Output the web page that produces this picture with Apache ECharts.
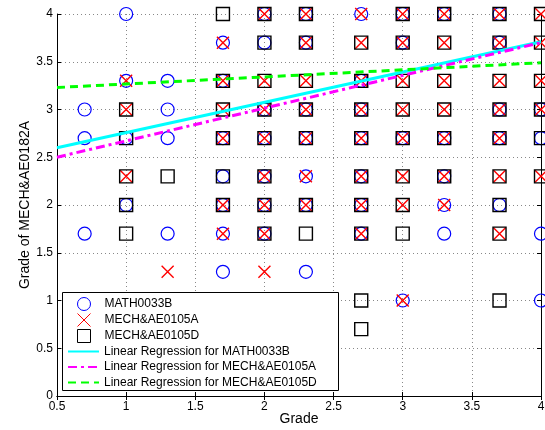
<!DOCTYPE html>
<html>
<head>
<meta charset="utf-8">
<script src="https://cdn.jsdelivr.net/npm/echarts@6/dist/echarts.min.js"></script>
<style>html,body{margin:0;padding:0;background:#fff}#c{width:545px;height:430px}</style>
</head>
<body>
<div id="c"></div>
<script>
// ---- data ----
const seriesNames = ['MATH0033B', 'MECH&AE0105A', 'MECH&AE0105D'];
const regNames = ['Linear Regression for MATH0033B', 'Linear Regression for MECH&AE0105A', 'Linear Regression for MECH&AE0105D'];
const math0033B = [
  [1,4],[2,4],[2.3,4],[2.7,4],[3,4],[3.3,4],[3.7,4],
  [1.7,3.7],[2,3.7],[2.3,3.7],[3,3.7],[3.7,3.7],
  [1,3.3],[1.3,3.3],[1.7,3.3],[2.7,3.3],
  [0.7,3],[1.3,3],[2,3],[2.3,3],[2.7,3],[3.7,3],[4,3],
  [0.7,2.7],[1,2.7],[1.3,2.7],[1.7,2.7],[2,2.7],[2.3,2.7],[2.7,2.7],[3,2.7],[3.3,2.7],[3.7,2.7],[4,2.7],
  [1.7,2.3],[2,2.3],[2.3,2.3],[2.7,2.3],[3.3,2.3],
  [1,2],[1.7,2],[2,2],[2.3,2],[2.7,2],[3.3,2],[3.7,2],
  [0.7,1.7],[1.3,1.7],[1.7,1.7],[2,1.7],[2.7,1.7],[3.3,1.7],[4,1.7],
  [1.7,1.3],[2.3,1.3],
  [3,1],[4,1]
];
const mech0105A = [
  [2,4],[2.3,4],[2.7,4],[3,4],[3.3,4],[3.7,4],[4,4],
  [1.7,3.7],[2.3,3.7],[2.7,3.7],[3,3.7],[3.3,3.7],[3.7,3.7],[4,3.7],
  [1,3.3],[1.7,3.3],[2,3.3],[2.3,3.3],[2.7,3.3],[3,3.3],[3.3,3.3],[3.7,3.3],[4,3.3],
  [1,3],[1.7,3],[2,3],[2.3,3],[2.7,3],[3,3],[3.3,3],[3.7,3],[4,3],
  [1.7,2.7],[2,2.7],[2.3,2.7],[2.7,2.7],[3,2.7],[3.3,2.7],[3.7,2.7],
  [1,2.3],[2,2.3],[2.3,2.3],[2.7,2.3],[3,2.3],[3.3,2.3],[3.7,2.3],[4,2.3],
  [1.7,2],[2,2],[2.3,2],[2.7,2],[3,2],[3.3,2],
  [1.7,1.7],[2,1.7],[2.7,1.7],[3.7,1.7],
  [1.3,1.3],[2,1.3],
  [3,1]
];
const mech0105D = [
  [1.7,4],[2,4],[2.3,4],[3,4],[3.3,4],[3.7,4],[4,4],
  [2,3.7],[2.3,3.7],[2.7,3.7],[3,3.7],[3.3,3.7],[3.7,3.7],[4,3.7],
  [1.7,3.3],[2,3.3],[2.3,3.3],[2.7,3.3],[3,3.3],[3.3,3.3],[3.7,3.3],[4,3.3],
  [1,3],[1.7,3],[2,3],[2.3,3],[2.7,3],[3,3],[3.3,3],[3.7,3],[4,3],
  [1,2.7],[1.7,2.7],[2,2.7],[2.3,2.7],[2.7,2.7],[3,2.7],[3.3,2.7],[3.7,2.7],[4,2.7],
  [1,2.3],[1.3,2.3],[1.7,2.3],[2,2.3],[2.7,2.3],[3,2.3],[3.3,2.3],[3.7,2.3],[4,2.3],
  [1,2],[1.7,2],[2,2],[2.3,2],[2.7,2],[3,2],[3.7,2],
  [1,1.7],[2,1.7],[2.3,1.7],[2.7,1.7],[3,1.7],[3.7,1.7],
  [2.7,1],[3.7,1],
  [2.7,0.7]
];
const regX = [0.5, 4];
const regMath = [2.6, 3.71];
const regA = [2.5, 3.7];
const regD = [3.23, 3.49];

// ---- chart ----
const font = 'Liberation Sans, Arial, sans-serif';
const pair = (xs, ys) => xs.map((x, i) => [x, ys[i]]);
const xPath = 'path://M0,0L10,10M10,0L0,10';
const sqPath = 'path://M0,0L10,0L10,10L0,10Z';
const cPath = 'path://M5,0A5,5,0,1,1,5,10A5,5,0,1,1,5,0Z';
const hidden = { color: 'none', borderColor: 'none', borderWidth: 0, opacity: 0 };
const chart = echarts.init(document.getElementById('c'));
const baseAxis = {
  min: 0, max: 4, interval: 0.5,
  axisLine: { show: true, lineStyle: { color: '#000', width: 1 } },
  axisTick: { show: true, inside: true, length: 4, lineStyle: { color: '#000' } },
  axisLabel: { color: '#000', fontFamily: font, fontSize: 12 },
  splitLine: { show: true, lineStyle: { color: '#888', type: [1, 3], width: 1 } }
};
const legendCommon = {
  orient: 'vertical', padding: 0, itemWidth: 31, itemHeight: 13,
  symbolKeepAspect: true, z: 5,
  textStyle: { color: '#000', fontFamily: font, fontSize: 12, lineHeight: 13 }
};
chart.setOption({
  animation: false,
  backgroundColor: '#fff',
  grid: { left: 57, right: 4, top: 14, bottom: 34, containLabel: false, outerBoundsMode: 'none' },
  xAxis: [
    Object.assign({}, baseAxis, { type: 'value', min: 0.5, max: 4, name: 'Grade', nameLocation: 'middle', nameGap: 16,
      nameMoveOverlap: false,
      nameTextStyle: { color: '#000', fontFamily: font, fontSize: 14 },
      axisLabel: { color: '#000', fontFamily: font, fontSize: 12, margin: 5, formatter: v => String(v) } }),
    Object.assign({}, baseAxis, { type: 'value', min: 0.5, max: 4, position: 'top', axisLabel: { show: false }, splitLine: { show: false } })
  ],
  yAxis: [
    Object.assign({}, baseAxis, { type: 'value', name: 'Grade of MECH&AE0182A', nameLocation: 'middle', nameGap: 25,
      nameMoveOverlap: false,
      nameTextStyle: { color: '#000', fontFamily: font, fontSize: 14 },
      axisLabel: { color: '#000', fontFamily: font, fontSize: 12, margin: 4, formatter: v => String(v) } }),
    Object.assign({}, baseAxis, { type: 'value', position: 'right', axisLabel: { show: false }, splitLine: { show: false } })
  ],
  graphic: [{
    type: 'rect', left: 62, top: 292, z: 4,
    shape: { width: 276, height: 98 },
    style: { fill: '#fff', stroke: '#000', lineWidth: 1 }
  }],
  legend: [
    Object.assign({}, legendCommon, {
      left: 75, top: 295, itemGap: -2,
      data: [
        { name: seriesNames[0], icon: cPath, itemStyle: { color: 'none', borderColor: '#0000ff', borderWidth: 1 } },
        { name: seriesNames[1], icon: xPath, itemStyle: { color: 'none', borderColor: '#ff0000', borderWidth: 1 } },
        { name: seriesNames[2], icon: sqPath, itemStyle: { color: 'none', borderColor: '#000', borderWidth: 1 } }
      ]
    }),
    Object.assign({}, legendCommon, {
      left: 67, top: 345, itemGap: 2.5,
      data: [
        { name: regNames[0], itemStyle: hidden },
        { name: regNames[1], itemStyle: hidden },
        { name: regNames[2], itemStyle: hidden }
      ]
    })
  ],
  series: [
    { name: seriesNames[0], type: 'scatter', data: math0033B, symbol: 'circle', symbolSize: 13,
      itemStyle: { color: 'none', borderColor: '#0000ff', borderWidth: 1.2, opacity: 1 }, z: 2 },
    { name: seriesNames[1], type: 'scatter', data: mech0105A, symbol: xPath, symbolSize: 12,
      itemStyle: { color: 'none', borderColor: '#ff0000', borderWidth: 1.4, opacity: 1 }, z: 2 },
    { name: seriesNames[2], type: 'scatter', data: mech0105D, symbol: 'rect', symbolSize: 13,
      itemStyle: { color: 'none', borderColor: '#000', borderWidth: 1.4, opacity: 1 }, z: 2 },
    { name: regNames[0], type: 'line', data: pair(regX, regMath), showSymbol: false, symbol: 'none',
      lineStyle: { color: '#00ffff', width: 3 }, itemStyle: { color: '#00ffff' }, z: 3 },
    { name: regNames[1], type: 'line', data: pair(regX, regA), showSymbol: false, symbol: 'none',
      lineStyle: { color: '#ff00ff', width: 3, type: [9, 4, 3, 4] }, itemStyle: { color: '#ff00ff' }, z: 3 },
    { name: regNames[2], type: 'line', data: pair(regX, regD), showSymbol: false, symbol: 'none',
      lineStyle: { color: '#00ff00', width: 3, type: [8, 5] }, itemStyle: { color: '#00ff00' }, z: 3 }
  ]
});
</script>
</body>
</html>
